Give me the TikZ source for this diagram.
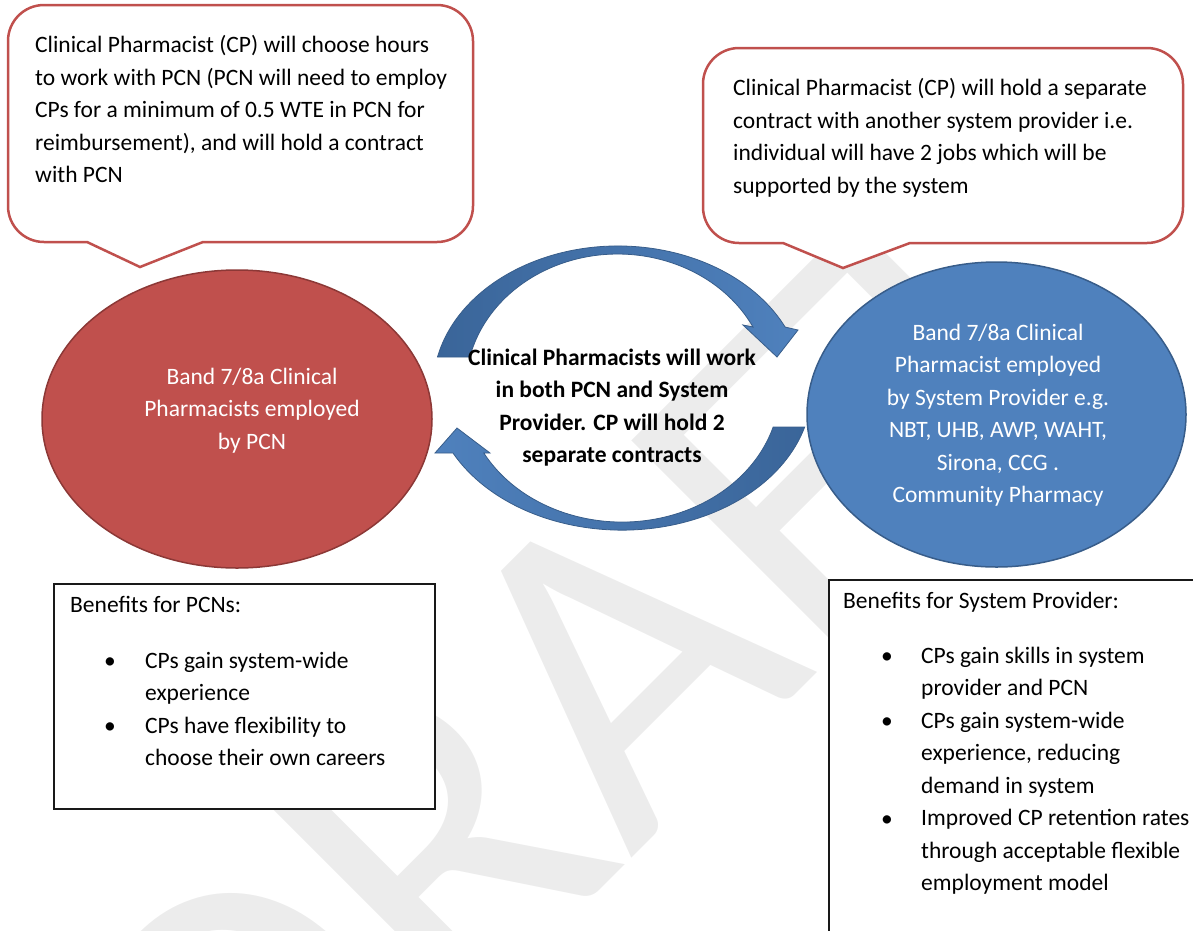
\documentclass[tikz,border=0pt]{standalone}
\usepackage{fontspec}
\setmainfont{Carlito}
\usetikzlibrary{shapes.geometric}

\definecolor{pcnred}{HTML}{C0504D}
\definecolor{pcnredline}{HTML}{8C3836}
\definecolor{sysblue}{HTML}{4F81BD}
\definecolor{sysblueline}{HTML}{385D8A}
\definecolor{arrowdark}{HTML}{3A6599}
\definecolor{wmgray}{RGB}{236,236,236}

\tikzset{
  txt/.style={font=\fontsize{23.5}{32.5}\selectfont, inner sep=0pt, align=left, anchor=north west},
  ctxt/.style={font=\fontsize{23.5}{32.5}\selectfont, inner sep=0pt, align=center, anchor=north},
  dot/.style={font=\fontsize{23.5}{32.5}\selectfont, inner sep=0pt, anchor=base},
  bubble/.style={draw=pcnred, line width=2.5pt, fill=white},
  blob/.style={ellipse, line width=1.5pt, inner sep=0pt},
  listbox/.style={draw=black!90, line width=1.5pt, fill=white, anchor=north west, inner sep=0pt},
  arrowbody/.style={draw=sysblueline, line width=0.8pt}
}

\begin{document}
\begin{tikzpicture}[x=1pt, y=1pt]
\path[use as bounding box] (0,0) rectangle (1193,-930);
\clip (0,0) rectangle (1193,-930);

% watermark
\node[rotate=45, anchor=base, text=wmgray, inner sep=0pt, font=\fontsize{460}{460}\selectfont] (draft) at (690,-800) {DRAFT};

% speech bubbles
\draw[bubble] (87,-242) -- (44,-242) arc[start angle=270, end angle=180, radius=36] -- (8,-41)
  arc[start angle=180, end angle=90, radius=36] -- (437,-5)
  arc[start angle=90, end angle=0, radius=36] -- (473,-206)
  arc[start angle=0, end angle=-90, radius=36] -- (203,-242) -- (140,-267) -- cycle;
\draw[bubble] (783,-243) -- (739,-243) arc[start angle=270, end angle=180, radius=36] -- (703,-84)
  arc[start angle=180, end angle=90, radius=36] -- (1147,-48)
  arc[start angle=90, end angle=0, radius=36] -- (1183,-207)
  arc[start angle=0, end angle=-90, radius=36] -- (910,-243) -- (843,-268) -- cycle;
\node[txt] (pcnnote) at (35,-35.5) {Clinical Pharmacist (CP) will choose hours\\to work with PCN (PCN will need to employ\\CPs for a minimum of 0.5 WTE in PCN for\\reimbursement), and will hold a contract\\with PCN};
\node[txt] (sysnote) at (733,-78.5) {Clinical Pharmacist (CP) will hold a separate\\contract with another system provider i.e.\\individual will have 2 jobs which will be\\supported by the system};

% the two employers
\node[blob, draw=pcnredline, fill=pcnred, minimum width=390pt, minimum height=298pt] (pcn) at (237,-419) {};
\node[blob, draw=sysblueline, fill=sysblue, minimum width=379pt, minimum height=305pt] (sys) at (996.5,-414.5) {};
\node[ctxt, text=white] (pcntext) at (252,-367.5) {Band 7/8a Clinical\\Pharmacists employed\\by PCN};
\node[ctxt, text=white] (systext) at (998,-323.5) {Band 7/8a Clinical\\Pharmacist employed\\by System Provider e.g.\\NBT, UHB, AWP, WAHT,\\Sirona, CCG .\\Community Pharmacy};

% circular arrows
\draw[arrowbody, left color=arrowdark, right color=sysblue]
  (470,-357) -- (437.5,-357) arc[start angle=167.4, end angle=25.4, x radius=185, y radius=142]
  -- (798,-330) -- (777,-357) -- (743,-325) -- (753,-327)
  arc[start angle=27.1, end angle=166.6, x radius=152, y radius=134] -- cycle;
\draw[arrowbody, left color=sysblue, right color=arrowdark]
  (773,-427) -- (804.7,-427) arc[start angle=-15.9, end angle=-152.8, x radius=190, y radius=142]
  -- (435,-453) -- (457,-428) -- (490,-453) -- (483.8,-453)
  arc[start angle=-151, end angle=-16.9, x radius=158, y radius=134] -- cycle;
\node[ctxt, font=\fontsize{23.5}{32.5}\selectfont\bfseries] (cptext) at (612,-348.5) {Clinical Pharmacists will work\\in both PCN and System\\Provider. CP will hold 2\\separate contracts};

% benefit boxes
\node[listbox, minimum width=381pt, minimum height=225pt] (pcnbox) at (53,-583) {};
\node[listbox, minimum width=420pt, minimum height=400pt] (sysbox) at (828,-579) {};
\node[txt] (pcnhead) at (70,-596.5) {Benefits for PCNs:};
\node[txt] (pcnlist) at (145,-651.5) {CPs gain system-wide\\experience\\CPs have flexibility to\\choose their own careers};
\foreach \y [count=\i] in {668,733} \node[dot] (pcndot\i) at (110,-\y) {\textbullet};
\node[txt] (syshead) at (843,-591.5) {Benefits for System Provider:};
\node[txt] (syslist) at (921,-646.5) {CPs gain skills in system\\provider and PCN\\CPs gain system-wide\\experience, reducing\\demand in system\\Improved CP retention rates\\through acceptable flexible\\employment model};
\foreach \y [count=\i] in {663,728,826} \node[dot] (sysdot\i) at (887,-\y) {\textbullet};

\end{tikzpicture}
\end{document}
